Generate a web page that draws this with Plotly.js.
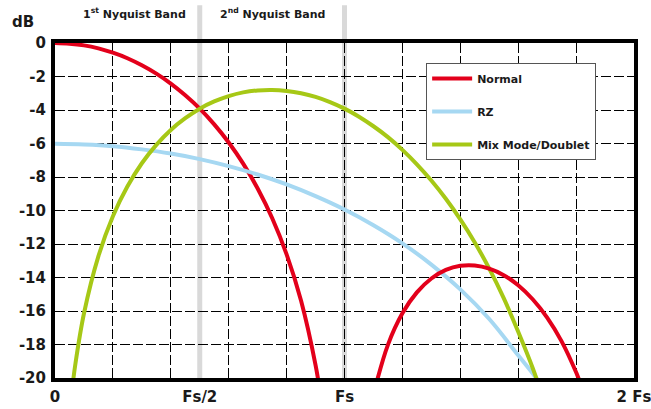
<!DOCTYPE html>
<html>
<head>
<meta charset="utf-8">
<script src="https://cdn.plot.ly/plotly-3.0.1.min.js"></script>
<style>html,body{margin:0;padding:0;background:#fff;}</style>
</head>
<body>
<div id="chart" style="width:651px;height:409px;"></div>
<script>
// Frequency in units of Fs
var normalX1 = [0, 0.05, 0.1, 0.15, 0.2, 0.25, 0.3, 0.35, 0.4, 0.45, 0.5, 0.55, 0.6, 0.65, 0.7, 0.75, 0.8, 0.85, 0.9, 0.92];
var normalY1 = [0, -0.04, -0.14, -0.32, -0.58, -0.91, -1.33, -1.83, -2.42, -3.12, -3.92, -4.86, -5.94, -7.20, -8.69, -10.45, -12.62, -15.39, -19.23, -21.31];
var normalX2 = [1.1, 1.15, 1.2, 1.25, 1.3, 1.35, 1.4, 1.45, 1.5, 1.55, 1.6, 1.65, 1.7, 1.75, 1.8, 1.82];
var normalY2 = [-20.97, -18.02, -16.14, -14.89, -14.06, -13.55, -13.30, -13.28, -13.47, -13.86, -14.46, -15.30, -16.39, -17.81, -19.66, -20.56];

var rzX = [0, 0.1, 0.2, 0.3, 0.4, 0.5, 0.6, 0.7, 0.8, 0.9, 1.0, 1.1, 1.2, 1.3, 1.4, 1.5, 1.6, 1.66, 1.7];
var rzY = [-6.02, -6.06, -6.16, -6.35, -6.60, -6.93, -7.35, -7.85, -8.44, -9.14, -9.94, -10.88, -11.96, -13.23, -14.71, -16.48, -18.64, -19.95, -21.0];

var mixX = [0.05, 0.06, 0.07, 0.1, 0.15, 0.2, 0.25, 0.3, 0.35, 0.4, 0.45, 0.5, 0.55, 0.6, 0.65, 0.7, 0.75, 0.8, 0.85, 0.9, 0.95, 1.0, 1.05, 1.1, 1.15, 1.2, 1.25, 1.3, 1.35, 1.4, 1.45, 1.5, 1.55, 1.6, 1.65, 1.7];
var mixY = [-22.12, -20.54, -19.21, -16.15, -12.72, -10.34, -8.57, -7.18, -6.08, -5.19, -4.49, -3.92, -3.49, -3.17, -2.95, -2.83, -2.80, -2.86, -3.00, -3.22, -3.53, -3.92, -4.40, -4.97, -5.62, -6.38, -7.24, -8.21, -9.30, -10.53, -11.91, -13.47, -15.23, -17.24, -19.40, -21.9];

var xTickVals = [0, 0.5, 1, 2];
var xTickText = ['0', 'Fs/2', 'Fs', '2 Fs'];
var yTickVals = [0, -2, -4, -6, -8, -10, -12, -14, -16, -18, -20];
var yTickText = ['0', '-2', '-4', '-6', '-8', '-10', '-12', '-14', '-16', '-18', '-20'];
var bandEdges = [0.5, 1];
var seriesNames = ['Normal', 'RZ', 'Mix Mode/Doublet'];

var RED = '#e3001b', BLUE = '#a6d8f2', GREEN = '#a6c816';
var FONT = 'DejaVu Sans, Verdana, sans-serif';

var traces = [
  {x: normalX1, y: normalY1, name: seriesNames[0], legendgroup: 'a', mode: 'lines', line: {color: RED, width: 4, shape: 'spline'}},
  {x: rzX, y: rzY, name: seriesNames[1], legendgroup: 'b', mode: 'lines', line: {color: BLUE, width: 4, shape: 'spline'}},
  {x: mixX, y: mixY, name: seriesNames[2], legendgroup: 'c', mode: 'lines', line: {color: GREEN, width: 4, shape: 'spline'}},
  {x: normalX2, y: normalY2, name: seriesNames[0], legendgroup: 'a', showlegend: false, mode: 'lines', line: {color: RED, width: 4, shape: 'spline'}}
];

var shapes = bandEdges.map(function (v) {
  return {type: 'line', xref: 'x', yref: 'paper', x0: v, x1: v, y0: 0, y1: 1.113, layer: 'below',
          line: {color: '#d9d9d9', width: 5}};
});

var layout = {
  width: 651, height: 409,
  margin: {l: 55, r: 17, t: 43, b: 31},
  paper_bgcolor: '#fff', plot_bgcolor: 'rgba(0,0,0,0)',
  showlegend: true,
  legend: {
    x: 0.641, y: 0.94, xanchor: 'left', yanchor: 'top',
    bgcolor: '#fff', bordercolor: '#555', borderwidth: 1,
    font: {family: FONT, size: 11, color: '#1a1a1a', weight: 'bold'},
    traceorder: 'grouped', tracegroupgap: 14, itemwidth: 40
  },
  xaxis: {
    range: [0, 2], dtick: 0.2, tick0: 0, showticklabels: false, ticks: '',
    showgrid: true, gridcolor: '#000', gridwidth: 1, griddash: '10px,3px',
    zeroline: false, showline: true, mirror: true, linecolor: '#000', linewidth: 4
  },
  xaxis2: {
    overlaying: 'x', anchor: 'y', side: 'bottom', range: [0, 2],
    tickmode: 'array', tickvals: xTickVals, ticktext: xTickText, ticks: '',
    showgrid: false, zeroline: false, showline: false,
    ticklabeloverflow: 'allow', ticklabelstandoff: 8,
    tickfont: {family: FONT, size: 15, color: '#1a1a1a', weight: 'bold'}
  },
  yaxis: {
    range: [-20, 0], tickmode: 'array', tickvals: yTickVals, ticktext: yTickText, ticks: '',
    showgrid: true, gridcolor: '#000', gridwidth: 1, griddash: '10px,3px',
    zeroline: false, showline: true, mirror: true, linecolor: '#000', linewidth: 4,
    ticklabelstandoff: 2,
    tickfont: {family: FONT, size: 15, color: '#1a1a1a', weight: 'bold'}
  },
  shapes: shapes,
  annotations: [
    {text: 'dB', xref: 'paper', yref: 'paper', x: -0.055, y: 1.063, yanchor: 'middle', xanchor: 'center', showarrow: false,
     font: {family: FONT, size: 15, color: '#1a1a1a', weight: 'bold'}},
    {text: '1<sup>st</sup> Nyquist Band', xref: 'x', yref: 'paper', x: 0.273, y: 1.087, yanchor: 'middle', showarrow: false,
     font: {family: FONT, size: 11, color: '#1a1a1a', weight: 'bold'}},
    {text: '2<sup>nd</sup> Nyquist Band', xref: 'x', yref: 'paper', x: 0.753, y: 1.087, yanchor: 'middle', showarrow: false,
     font: {family: FONT, size: 11, color: '#1a1a1a', weight: 'bold'}}
  ]
};

// invisible trace to activate xaxis2
traces.push({x: [0, 2], y: [null, null], xaxis: 'x2', yaxis: 'y', showlegend: false, hoverinfo: 'skip', mode: 'lines'});

Plotly.newPlot('chart', traces, layout, {staticPlot: true, displayModeBar: false});
</script>
</body>
</html>
